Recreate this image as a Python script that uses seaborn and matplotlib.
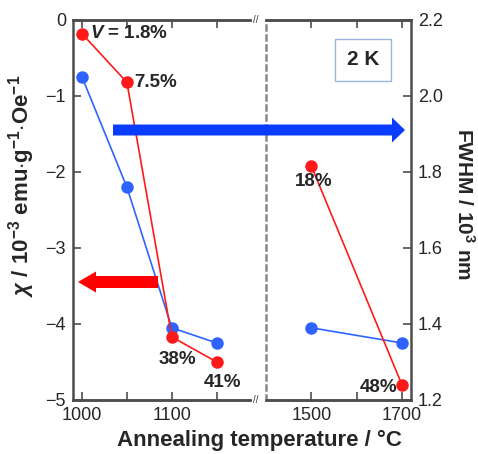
import matplotlib
matplotlib.use("Agg")
import matplotlib.pyplot as plt
from matplotlib.patches import FancyArrow
import pandas as pd
import seaborn as sns

# --- data ---
temp_low = [1000, 1050, 1100, 1150]
temp_high = [1500, 1700]
chi_low = [-0.18, -0.82, -4.17, -4.50]
chi_high = [-1.92, -4.80]
fwhm_low = [2.05, 1.76, 1.39, 1.35]
fwhm_high = [1.39, 1.35]
vol_low = [r"$\mathit{V}$ = 1.8%", "7.5%", "38%", "41%"]
vol_high = ["18%", "48%"]

chi_ticks = [-5, -4, -3, -2, -1, 0]
fwhm_ticks = [1.2, 1.4, 1.6, 1.8, 2.0, 2.2]

sns.set_style("ticks")
plt.rcParams["font.family"] = ["Liberation Sans", "DejaVu Sans"]
plt.rcParams["mathtext.fontset"] = "custom"
plt.rcParams["mathtext.rm"] = "Liberation Sans:bold"
plt.rcParams["mathtext.bf"] = "Liberation Sans:bold"
plt.rcParams["mathtext.it"] = "Liberation Sans:italic:bold"

RED = "#ff1a1a"
BLUE = "#2f63ff"
SPINE = "#4d4d4d"

low = pd.DataFrame({"T": temp_low, "chi": chi_low, "fwhm": fwhm_low})
high = pd.DataFrame({"T": temp_high, "chi": chi_high, "fwhm": fwhm_high})

W, H = 478, 454
fig = plt.figure(figsize=(W / 100, H / 100), dpi=100)
axL = fig.add_axes([73 / W, 54 / H, 177 / W, 380 / H])
axR = fig.add_axes([266 / W, 54 / H, 145 / W, 380 / H])
axL2 = axL.twinx()
axR2 = axR.twinx()

for ax, ax2, df in [(axL, axL2, low), (axR, axR2, high)]:
    sns.lineplot(data=df, x="T", y="fwhm", ax=ax2, color=BLUE, lw=1.2,
                 marker="o", markersize=9, markeredgewidth=0, zorder=2)
    sns.lineplot(data=df, x="T", y="chi", ax=ax, color=RED, lw=1.2,
                 marker="o", markersize=9, markeredgewidth=0, zorder=3)
    ax.set_ylim(-5, 0)
    ax2.set_ylim(1.2, 2.2)
    ax.set_xlabel("")
    ax.set_ylabel("")
    ax2.set_ylabel("")
    for a in (ax, ax2):
        for s in a.spines.values():
            s.set_color(SPINE)
            s.set_linewidth(1.8)
    ax.tick_params(direction="in", length=6, width=1.2, color=SPINE,
                   labelsize=13, top=True, pad=5)
    ax2.tick_params(direction="in", length=6, width=1.2, color=SPINE,
                    labelsize=13, pad=5)

# put red above blue twin layer
axL.set_zorder(axL2.get_zorder() + 1)
axL.patch.set_visible(False)
axR.set_zorder(axR2.get_zorder() + 1)
axR.patch.set_visible(False)

# left segment
axL.set_xlim(990, 1187)
axL.set_xticks([1000, 1050, 1100, 1150])
axL.set_xticklabels(["1000", "", "1100", ""])
axL.set_yticks(chi_ticks)
axL.set_yticklabels([str(v).replace("-", "\u2212") for v in chi_ticks])
axL.spines["right"].set_visible(False)
axL2.spines["right"].set_visible(False)
axL2.spines["left"].set_visible(False)
axL2.set_yticks([])

# right segment
axR.set_xlim(1400, 1720)
axR.set_xticks([1500, 1600, 1700])
axR.set_xticklabels(["1500", "", "1700"])
axR.set_yticks([])
axR.spines["left"].set_linestyle((0, (2, 2)))
axR.spines["left"].set_color("#888888")
axR.spines["right"].set_visible(False)
axR2.spines["left"].set_visible(False)
axR2.set_yticks(fwhm_ticks)
axR2.set_yticklabels([f"{v:.1f}" for v in fwhm_ticks])

# point labels (volume fraction)
offs_low = [(6, 0, "left", "center"), (5, 0, "left", "center"),
            (4, -16, "center", "center"), (4, -15, "center", "center")]
for t, c, lab, (dx, dy, ha, va) in zip(temp_low, chi_low, vol_low, offs_low):
    axL.annotate(lab, (t, c), xytext=(dx, dy), textcoords="offset points",
                 fontsize=13.5, fontweight="bold", ha=ha, va=va, annotation_clip=False)
offs_high = [(2, -11, "center", "center"), (-17, -2, "center", "center")]
for t, c, lab, (dx, dy, ha, va) in zip(temp_high, chi_high, vol_high, offs_high):
    axR.annotate(lab, (t, c), xytext=(dx, dy), textcoords="offset points",
                 fontsize=13.5, fontweight="bold", ha=ha, va=va, annotation_clip=False)

# "2 K" box
axR.text(0.669, 0.895, "2 K", transform=axR.transAxes, fontsize=15,
         fontweight="bold", ha="center", va="center",
         bbox=dict(boxstyle="square,pad=0.55", fc="white", ec="#9bb5df", lw=1))

# axis-assignment arrows
fig.patches.append(FancyArrow(113 / W, 1 - 130 / H, (392 - 113) / W, 0,
                              width=11 / H, head_width=25 / H, head_length=13 / W,
                              length_includes_head=False, transform=fig.transFigure,
                              color="#0a3cff", lw=0))
fig.patches.append(FancyArrow(158 / W, 1 - 282 / H, -(158 - 96) / W, 0,
                              width=12 / H, head_width=21 / H, head_length=18 / W,
                              length_includes_head=False, transform=fig.transFigure,
                              color="#ff0000", lw=0))

# break marks
for y in (0, 1):
    axL.text(1.03, y, "//", transform=axL.transAxes, fontsize=7, ha="center",
             va="center", color="#333333", clip_on=False)

# axis labels
fig.text(259 / W, 1 - 440 / H, "Annealing temperature / \u00b0C", fontsize=16,
         fontweight="bold", ha="center", va="center")
fig.text(22 / W, 1 - 186 / H,
         r"$\chi$ / 10$^{\mathbf{-3}}$ emu$\cdot$g$^{\mathbf{-1}}$$\cdot$Oe$^{\mathbf{-1}}$",
         fontsize=16, fontweight="bold", rotation=90, ha="center", va="center")
fig.text(464 / W, 1 - 204 / H, r"FWHM / 10$^{\mathbf{3}}$ nm", fontsize=15,
         fontweight="bold", rotation=270, ha="center", va="center")

fig.savefig("out.png", dpi=100)
